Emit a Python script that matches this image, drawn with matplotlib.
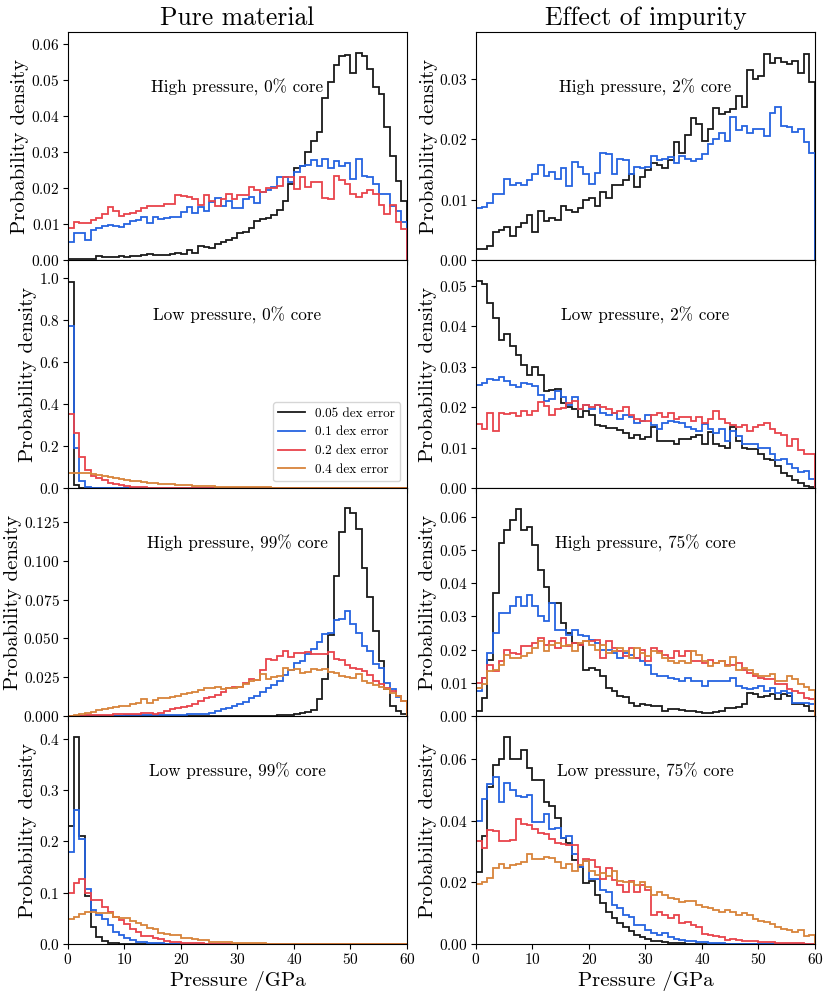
import numpy as np
import matplotlib
matplotlib.use("Agg")
import matplotlib.pyplot as plt

plt.rcParams['font.family'] = ['cmr10', 'DejaVu Serif']
plt.rcParams['mathtext.fontset'] = 'cm'
plt.rcParams['axes.formatter.use_mathtext'] = True

edges = np.arange(0, 61, 1)
labels = ['0.05 dex error', '0.1 dex error', '0.2 dex error', '0.4 dex error']
colors = ['#1a1a1a', '#2563e0', '#e8434b', '#d8843a']

# ---------- Pure material, high pressure, 0% core ----------
hp0_005 = [0.0002, 0.0003, 0.0003, 0.0002, 0.0004, 0.0011, 0.0009, 0.0007, 0.0009, 0.0012,
           0.0008, 0.0012, 0.0010, 0.0014, 0.0016, 0.0015, 0.0015, 0.0014, 0.0017, 0.0019,
           0.0016, 0.0027, 0.0020, 0.0040, 0.0036, 0.0032, 0.0045, 0.0050, 0.0055, 0.0062,
           0.0075, 0.0079, 0.0090, 0.0107, 0.0115, 0.0116, 0.0125, 0.0140, 0.0165, 0.0210,
           0.0255, 0.0260, 0.0300, 0.0330, 0.0355, 0.0450, 0.0495, 0.0540, 0.0565, 0.0570,
           0.0520, 0.0575, 0.0565, 0.0530, 0.0480, 0.0460, 0.0370, 0.0290, 0.0220, 0.0165]
hp0_01 = [0.0050, 0.0075, 0.0075, 0.0055, 0.0083, 0.0088, 0.0095, 0.0098, 0.0095, 0.0092,
          0.0100, 0.0108, 0.0112, 0.0118, 0.0102, 0.0118, 0.0115, 0.0117, 0.0118, 0.0120,
          0.0133, 0.0148, 0.0130, 0.0148, 0.0135, 0.0160, 0.0172, 0.0150, 0.0165, 0.0145,
          0.0144, 0.0170, 0.0176, 0.0158, 0.0190, 0.0195, 0.0204, 0.0230, 0.0230, 0.0216,
          0.0245, 0.0260, 0.0265, 0.0277, 0.0260, 0.0280, 0.0255, 0.0276, 0.0260, 0.0270,
          0.0226, 0.0280, 0.0232, 0.0230, 0.0210, 0.0184, 0.0183, 0.0151, 0.0137, 0.0105]
hp0_02 = [0.0089, 0.0105, 0.0104, 0.0102, 0.0112, 0.0117, 0.0127, 0.0146, 0.0135, 0.0123,
          0.0127, 0.0130, 0.0135, 0.0144, 0.0149, 0.0151, 0.0151, 0.0156, 0.0155, 0.0180,
          0.0178, 0.0176, 0.0170, 0.0153, 0.0180, 0.0165, 0.0149, 0.0170, 0.0183, 0.0170,
          0.0180, 0.0180, 0.0204, 0.0195, 0.0188, 0.0200, 0.0200, 0.0205, 0.0230, 0.0230,
          0.0198, 0.0230, 0.0203, 0.0217, 0.0217, 0.0172, 0.0170, 0.0234, 0.0222, 0.0211,
          0.0182, 0.0176, 0.0186, 0.0193, 0.0184, 0.0154, 0.0127, 0.0154, 0.0105, 0.0086]

# ---------- Impurity, high pressure, 2% core ----------
hp2_005 = [0.0018, 0.0019, 0.0024, 0.0047, 0.0050, 0.0055, 0.0040, 0.0055, 0.0062, 0.0075,
           0.0047, 0.0082, 0.0064, 0.0070, 0.0066, 0.0090, 0.0083, 0.0080, 0.0086, 0.0100,
           0.0102, 0.0090, 0.0113, 0.0102, 0.0125, 0.0125, 0.0132, 0.0142, 0.0121, 0.0137,
           0.0150, 0.0160, 0.0158, 0.0152, 0.0165, 0.0195, 0.0178, 0.0208, 0.0235, 0.0225,
           0.0197, 0.0218, 0.0252, 0.0242, 0.0245, 0.0250, 0.0272, 0.0254, 0.0315, 0.0300,
           0.0305, 0.0342, 0.0327, 0.0335, 0.0328, 0.0325, 0.0330, 0.0310, 0.0342, 0.0295]
hp2_01 = [0.0087, 0.0088, 0.0095, 0.0110, 0.0110, 0.0134, 0.0125, 0.0127, 0.0124, 0.0133,
          0.0143, 0.0157, 0.0140, 0.0146, 0.0135, 0.0152, 0.0122, 0.0162, 0.0154, 0.0143,
          0.0126, 0.0145, 0.0178, 0.0175, 0.0142, 0.0168, 0.0165, 0.0142, 0.0154, 0.0153,
          0.0155, 0.0173, 0.0165, 0.0168, 0.0170, 0.0160, 0.0173, 0.0167, 0.0164, 0.0168,
          0.0175, 0.0193, 0.0200, 0.0210, 0.0198, 0.0237, 0.0215, 0.0222, 0.0210, 0.0218,
          0.0218, 0.0205, 0.0243, 0.0253, 0.0222, 0.0220, 0.0213, 0.0218, 0.0195, 0.0178]

# ---------- Pure material, low pressure, 0% core ----------
lp0_005 = [0.98, 0.015, 0.002, 0.0005, 0.0002, 0.0001, 0.0, 0.0, 0.0, 0.0,
           0.0, 0.0, 0.0, 0.0, 0.0, 0.0, 0.0, 0.0, 0.0, 0.0,
           0.0, 0.0, 0.0, 0.0, 0.0, 0.0, 0.0, 0.0, 0.0, 0.0,
           0.0, 0.0, 0.0, 0.0, 0.0, 0.0, 0.0, 0.0, 0.0, 0.0,
           0.0, 0.0, 0.0, 0.0, 0.0, 0.0, 0.0, 0.0, 0.0, 0.0,
           0.0, 0.0, 0.0, 0.0, 0.0, 0.0, 0.0, 0.0, 0.0, 0.0]
lp0_01 = [0.77, 0.19, 0.032, 0.004, 0.0015, 0.0010, 0.0007, 0.0005, 0.0003, 0.0002,
          0.0001, 0.0001, 0.0, 0.0, 0.0, 0.0, 0.0, 0.0, 0.0, 0.0,
          0.0, 0.0, 0.0, 0.0, 0.0, 0.0, 0.0, 0.0, 0.0, 0.0,
          0.0, 0.0, 0.0, 0.0, 0.0, 0.0, 0.0, 0.0, 0.0, 0.0,
          0.0, 0.0, 0.0, 0.0, 0.0, 0.0, 0.0, 0.0, 0.0, 0.0,
          0.0, 0.0, 0.0, 0.0, 0.0, 0.0, 0.0, 0.0, 0.0, 0.0]
lp0_02 = [0.35, 0.26, 0.145, 0.084, 0.058, 0.047, 0.036, 0.024, 0.017, 0.012,
          0.009, 0.006, 0.004, 0.003, 0.002, 0.0015, 0.0010, 0.0008, 0.0006, 0.0004,
          0.0003, 0.0002, 0.0002, 0.0001, 0.0001, 0.0, 0.0, 0.0, 0.0, 0.0,
          0.0, 0.0, 0.0, 0.0, 0.0, 0.0, 0.0, 0.0, 0.0, 0.0,
          0.0, 0.0, 0.0, 0.0, 0.0, 0.0, 0.0, 0.0, 0.0, 0.0,
          0.0, 0.0, 0.0, 0.0, 0.0, 0.0, 0.0, 0.0, 0.0, 0.0]
lp0_04 = [0.070, 0.072, 0.073, 0.070, 0.065, 0.060, 0.055, 0.050, 0.046, 0.042,
          0.038, 0.034, 0.031, 0.028, 0.025, 0.023, 0.021, 0.019, 0.017, 0.015,
          0.013, 0.012, 0.011, 0.010, 0.009, 0.008, 0.007, 0.006, 0.0055, 0.0050,
          0.0045, 0.0040, 0.0035, 0.0030, 0.0027, 0.0024, 0.0021, 0.0018, 0.0015, 0.0013,
          0.0011, 0.0010, 0.0009, 0.0008, 0.0007, 0.0006, 0.0005, 0.0004, 0.0004, 0.0003,
          0.0003, 0.0002, 0.0002, 0.0002, 0.0001, 0.0001, 0.0001, 0.0001, 0.0001, 0.0001]

# ---------- Impurity, low pressure, 2% core ----------
lp2_005 = [0.0512, 0.0505, 0.0458, 0.0420, 0.0365, 0.0380, 0.0350, 0.0330, 0.0305, 0.0280,
           0.0300, 0.0280, 0.0240, 0.0242, 0.0246, 0.0210, 0.0200, 0.0195, 0.0175, 0.0190,
           0.0180, 0.0155, 0.0153, 0.0148, 0.0149, 0.0143, 0.0135, 0.0123, 0.0130, 0.0122,
           0.0127, 0.0150, 0.0117, 0.0117, 0.0115, 0.0110, 0.0120, 0.0120, 0.0125, 0.0130,
           0.0110, 0.0138, 0.0108, 0.0105, 0.0100, 0.0150, 0.0115, 0.0100, 0.0097, 0.0096,
           0.0085, 0.0072, 0.0068, 0.0055, 0.0038, 0.0030, 0.0020, 0.0012, 0.0006, 0.0003]
lp2_01 = [0.0255, 0.0260, 0.0270, 0.0268, 0.0275, 0.0265, 0.0255, 0.0250, 0.0260, 0.0256,
          0.0253, 0.0230, 0.0215, 0.0220, 0.0240, 0.0225, 0.0205, 0.0225, 0.0195, 0.0205,
          0.0195, 0.0205, 0.0185, 0.0180, 0.0185, 0.0170, 0.0180, 0.0175, 0.0160, 0.0165,
          0.0180, 0.0155, 0.0145, 0.0160, 0.0165, 0.0162, 0.0160, 0.0150, 0.0145, 0.0140,
          0.0158, 0.0145, 0.0135, 0.0145, 0.0115, 0.0140, 0.0128, 0.0110, 0.0110, 0.0110,
          0.0100, 0.0100, 0.0085, 0.0068, 0.0072, 0.0060, 0.0050, 0.0040, 0.0042, 0.0022]
lp2_02 = [0.0158, 0.0145, 0.0185, 0.0140, 0.0185, 0.0182, 0.0186, 0.0178, 0.0190, 0.0180,
          0.0190, 0.0212, 0.0202, 0.0180, 0.0195, 0.0198, 0.0210, 0.0215, 0.0195, 0.0205,
          0.0200, 0.0205, 0.0200, 0.0195, 0.0185, 0.0190, 0.0200, 0.0180, 0.0170, 0.0165,
          0.0165, 0.0180, 0.0185, 0.0175, 0.0185, 0.0170, 0.0175, 0.0175, 0.0165, 0.0175,
          0.0160, 0.0170, 0.0190, 0.0170, 0.0160, 0.0155, 0.0150, 0.0155, 0.0140, 0.0150,
          0.0155, 0.0160, 0.0145, 0.0135, 0.0130, 0.0105, 0.0120, 0.0095, 0.0085, 0.0085]

# ---------- Pure material, high pressure, 99% core ----------
hp99_005 = [0.0, 0.0, 0.0, 0.0, 0.0, 0.0, 0.0, 0.0, 0.0, 0.0,
            0.0, 0.0, 0.0, 0.0, 0.0, 0.0, 0.0, 0.0, 0.0, 0.0,
            0.0, 0.0, 0.0, 0.0, 0.0, 0.0, 0.0, 0.0, 0.0, 0.0001,
            0.0001, 0.0001, 0.0001, 0.0002, 0.0002, 0.0002, 0.0003, 0.0004, 0.0006, 0.0008,
            0.0012, 0.0017, 0.0025, 0.0040, 0.0108, 0.0237, 0.0520, 0.0900, 0.1188, 0.1338,
            0.1310, 0.1205, 0.0957, 0.0770, 0.0549, 0.0355, 0.0172, 0.0065, 0.0030, 0.0010]
hp99_01 = [0.0, 0.0001, 0.0001, 0.0001, 0.0002, 0.0002, 0.0002, 0.0003, 0.0003, 0.0003,
           0.0004, 0.0004, 0.0005, 0.0005, 0.0006, 0.0006, 0.0007, 0.0008, 0.0008, 0.0009,
           0.0009, 0.0010, 0.0010, 0.0012, 0.0015, 0.0022, 0.0032, 0.0043, 0.0050, 0.0065,
           0.0075, 0.0093, 0.0114, 0.0129, 0.0157, 0.0183, 0.0200, 0.0226, 0.0265, 0.0295,
           0.0344, 0.0355, 0.0400, 0.0430, 0.0478, 0.0527, 0.0534, 0.0620, 0.0628, 0.0678,
           0.0596, 0.0534, 0.0450, 0.0420, 0.0333, 0.0310, 0.0215, 0.0172, 0.0123, 0.0097]
hp99_02 = [0.0002, 0.0003, 0.0003, 0.0004, 0.0005, 0.0006, 0.0007, 0.0008, 0.0010, 0.0011,
           0.0013, 0.0012, 0.0015, 0.0017, 0.0016, 0.0015, 0.0022, 0.0032, 0.0042, 0.0054,
           0.0058, 0.0065, 0.0080, 0.0097, 0.0114, 0.0123, 0.0135, 0.0157, 0.0180, 0.0190,
           0.0190, 0.0215, 0.0240, 0.0235, 0.0297, 0.0366, 0.0360, 0.0387, 0.0420, 0.0383,
           0.0404, 0.0405, 0.0415, 0.0400, 0.0400, 0.0400, 0.0410, 0.0366, 0.0359, 0.0330,
           0.0310, 0.0300, 0.0290, 0.0262, 0.0226, 0.0204, 0.0180, 0.0160, 0.0129, 0.0097]
hp99_04 = [0.0001, 0.0004, 0.0010, 0.0019, 0.0025, 0.0036, 0.0047, 0.0054, 0.0060, 0.0065,
           0.0066, 0.0075, 0.0086, 0.0107, 0.0086, 0.0101, 0.0113, 0.0113, 0.0122, 0.0129,
           0.0140, 0.0150, 0.0157, 0.0168, 0.0180, 0.0183, 0.0190, 0.0172, 0.0178, 0.0183,
           0.0190, 0.0204, 0.0226, 0.0230, 0.0268, 0.0236, 0.0250, 0.0260, 0.0308, 0.0295,
           0.0300, 0.0280, 0.0283, 0.0300, 0.0294, 0.0300, 0.0285, 0.0280, 0.0258, 0.0250,
           0.0245, 0.0270, 0.0226, 0.0215, 0.0200, 0.0185, 0.0172, 0.0150, 0.0129, 0.0097]

# ---------- Impurity, high pressure, 75% core ----------
hp75_005 = [0.0015, 0.0053, 0.0170, 0.0370, 0.0520, 0.0560, 0.0590, 0.0625, 0.0560, 0.0570,
            0.0515, 0.0440, 0.0390, 0.0340, 0.0340, 0.0280, 0.0250, 0.0220, 0.0215, 0.0140,
            0.0145, 0.0138, 0.0120, 0.0085, 0.0075, 0.0060, 0.0058, 0.0040, 0.0030, 0.0035,
            0.0033, 0.0030, 0.0030, 0.0015, 0.0020, 0.0020, 0.0018, 0.0015, 0.0015, 0.0013,
            0.0010, 0.0010, 0.0012, 0.0015, 0.0025, 0.0023, 0.0028, 0.0035, 0.0070, 0.0065,
            0.0058, 0.0060, 0.0065, 0.0050, 0.0065, 0.0060, 0.0035, 0.0035, 0.0030, 0.0015]
hp75_01 = [0.0075, 0.0115, 0.0190, 0.0250, 0.0310, 0.0310, 0.0330, 0.0360, 0.0330, 0.0365,
           0.0330, 0.0300, 0.0285, 0.0340, 0.0260, 0.0260, 0.0245, 0.0260, 0.0245, 0.0240,
           0.0230, 0.0220, 0.0200, 0.0200, 0.0190, 0.0175, 0.0190, 0.0185, 0.0175, 0.0165,
           0.0155, 0.0125, 0.0120, 0.0120, 0.0115, 0.0110, 0.0105, 0.0115, 0.0105, 0.0105,
           0.0090, 0.0105, 0.0105, 0.0105, 0.0105, 0.0115, 0.0090, 0.0085, 0.0080, 0.0085,
           0.0090, 0.0075, 0.0085, 0.0070, 0.0075, 0.0070, 0.0040, 0.0040, 0.0040, 0.0035]
hp75_02 = [0.0098, 0.0115, 0.0155, 0.0135, 0.0165, 0.0200, 0.0190, 0.0188, 0.0210, 0.0210,
           0.0220, 0.0235, 0.0215, 0.0225, 0.0205, 0.0235, 0.0210, 0.0220, 0.0215, 0.0225,
           0.0225, 0.0230, 0.0175, 0.0225, 0.0205, 0.0195, 0.0180, 0.0205, 0.0175, 0.0200,
           0.0165, 0.0205, 0.0195, 0.0185, 0.0175, 0.0195, 0.0180, 0.0195, 0.0165, 0.0165,
           0.0160, 0.0170, 0.0160, 0.0165, 0.0155, 0.0155, 0.0160, 0.0140, 0.0130, 0.0120,
           0.0115, 0.0110, 0.0110, 0.0095, 0.0095, 0.0080, 0.0075, 0.0070, 0.0055, 0.0050]
hp75_04 = [0.0085, 0.0095, 0.0135, 0.0140, 0.0155, 0.0185, 0.0175, 0.0175, 0.0180, 0.0190,
           0.0205, 0.0225, 0.0195, 0.0215, 0.0220, 0.0210, 0.0215, 0.0195, 0.0220, 0.0225,
           0.0215, 0.0200, 0.0215, 0.0190, 0.0195, 0.0205, 0.0195, 0.0175, 0.0205, 0.0190,
           0.0180, 0.0195, 0.0190, 0.0175, 0.0165, 0.0160, 0.0165, 0.0160, 0.0195, 0.0185,
           0.0165, 0.0150, 0.0160, 0.0165, 0.0150, 0.0178, 0.0140, 0.0145, 0.0140, 0.0125,
           0.0120, 0.0120, 0.0125, 0.0105, 0.0105, 0.0120, 0.0110, 0.0095, 0.0088, 0.0078]

# ---------- Pure material, low pressure, 99% core ----------
lp99_005 = [0.230, 0.404, 0.210, 0.0925, 0.0326, 0.0143, 0.0065, 0.0026, 0.0012, 0.0006,
            0.0003, 0.0002, 0.0001, 0.0001, 0.0, 0.0, 0.0, 0.0, 0.0, 0.0,
            0.0, 0.0, 0.0, 0.0, 0.0, 0.0, 0.0, 0.0, 0.0, 0.0,
            0.0, 0.0, 0.0, 0.0, 0.0, 0.0, 0.0, 0.0, 0.0, 0.0,
            0.0, 0.0, 0.0, 0.0, 0.0, 0.0, 0.0, 0.0, 0.0, 0.0,
            0.0, 0.0, 0.0, 0.0, 0.0, 0.0, 0.0, 0.0, 0.0, 0.0]
lp99_01 = [0.180, 0.2606, 0.205, 0.107, 0.0664, 0.057, 0.049, 0.037, 0.024, 0.0176,
           0.0124, 0.0078, 0.0046, 0.0030, 0.0020, 0.0015, 0.0010, 0.0008, 0.0005, 0.0004,
           0.0003, 0.0002, 0.0001, 0.0001, 0.0, 0.0, 0.0, 0.0, 0.0, 0.0,
           0.0, 0.0, 0.0, 0.0, 0.0, 0.0, 0.0, 0.0, 0.0, 0.0,
           0.0, 0.0, 0.0, 0.0, 0.0, 0.0, 0.0, 0.0, 0.0, 0.0,
           0.0, 0.0, 0.0, 0.0, 0.0, 0.0, 0.0, 0.0, 0.0, 0.0]
lp99_02 = [0.099, 0.1186, 0.126, 0.100, 0.086, 0.086, 0.0717, 0.063, 0.052, 0.047,
           0.038, 0.030, 0.024, 0.0156, 0.0156, 0.0124, 0.0098, 0.0065, 0.0046, 0.0035,
           0.0025, 0.0018, 0.0013, 0.0010, 0.0007, 0.0005, 0.0003, 0.0002, 0.0001, 0.0001,
           0.0, 0.0, 0.0, 0.0, 0.0, 0.0, 0.0, 0.0, 0.0, 0.0,
           0.0, 0.0, 0.0, 0.0, 0.0, 0.0, 0.0, 0.0, 0.0, 0.0,
           0.0, 0.0, 0.0, 0.0, 0.0, 0.0, 0.0, 0.0, 0.0, 0.0]
lp99_04 = [0.049, 0.052, 0.058, 0.063, 0.062, 0.061, 0.060, 0.060, 0.052, 0.051,
           0.050, 0.0456, 0.041, 0.037, 0.0306, 0.029, 0.0208, 0.0200, 0.0176, 0.0176,
           0.0124, 0.0124, 0.0098, 0.0078, 0.0078, 0.0046, 0.0046, 0.0040, 0.0033, 0.0025,
           0.0020, 0.0016, 0.0014, 0.0012, 0.0010, 0.0008, 0.0007, 0.0006, 0.0005, 0.0004,
           0.0003, 0.0002, 0.0002, 0.0001, 0.0001, 0.0, 0.0, 0.0, 0.0, 0.0,
           0.0, 0.0, 0.0, 0.0, 0.0, 0.0, 0.0, 0.0, 0.0, 0.0]

# ---------- Impurity, low pressure, 75% core ----------
lp75_005 = [0.0232, 0.0350, 0.0510, 0.0580, 0.0600, 0.0670, 0.0600, 0.0600, 0.0630, 0.0570,
            0.0533, 0.0533, 0.0460, 0.0446, 0.0408, 0.0343, 0.0327, 0.0273, 0.0250, 0.0197,
            0.0203, 0.0159, 0.0132, 0.0105, 0.0083, 0.0067, 0.0056, 0.0042, 0.0029, 0.0021,
            0.0015, 0.0011, 0.0008, 0.0006, 0.0004, 0.0003, 0.0002, 0.0001, 0.0, 0.0,
            0.0, 0.0, 0.0, 0.0, 0.0, 0.0, 0.0, 0.0, 0.0, 0.0,
            0.0, 0.0, 0.0, 0.0, 0.0, 0.0, 0.0, 0.0, 0.0, 0.0]
lp75_01 = [0.0400, 0.0470, 0.0520, 0.0540, 0.0460, 0.0522, 0.0500, 0.0480, 0.0475, 0.0484,
           0.0395, 0.0395, 0.0420, 0.0373, 0.0375, 0.0343, 0.0350, 0.0290, 0.0250, 0.0268,
           0.0210, 0.0210, 0.0175, 0.0170, 0.0127, 0.0116, 0.0094, 0.0089, 0.0060, 0.0062,
           0.0046, 0.0035, 0.0029, 0.0035, 0.0022, 0.0016, 0.0013, 0.0011, 0.0008, 0.0006,
           0.0005, 0.0004, 0.0003, 0.0002, 0.0001, 0.0001, 0.0001, 0.0, 0.0, 0.0,
           0.0, 0.0, 0.0, 0.0, 0.0, 0.0, 0.0, 0.0, 0.0, 0.0]
lp75_02 = [0.0335, 0.0310, 0.0368, 0.0365, 0.0335, 0.0335, 0.0338, 0.0405, 0.0390, 0.0387,
           0.0374, 0.0360, 0.0357, 0.0339, 0.0327, 0.0324, 0.0320, 0.0320, 0.0257, 0.0276,
           0.0273, 0.0249, 0.0211, 0.0246, 0.0208, 0.0192, 0.0170, 0.0205, 0.0170, 0.0190,
           0.0176, 0.0094, 0.0103, 0.0094, 0.0083, 0.0094, 0.0067, 0.0070, 0.0062, 0.0054,
           0.0031, 0.0029, 0.0027, 0.0024, 0.0013, 0.0015, 0.0012, 0.0011, 0.0010, 0.0008,
           0.0007, 0.0006, 0.0005, 0.0004, 0.0004, 0.0003, 0.0002, 0.0002, 0.0001, 0.0001]
lp75_04 = [0.0195, 0.0200, 0.0215, 0.0245, 0.0260, 0.0245, 0.0255, 0.0260, 0.0265, 0.0290,
           0.0275, 0.0275, 0.0283, 0.0280, 0.0265, 0.0245, 0.0260, 0.0235, 0.0255, 0.0270,
           0.0235, 0.0225, 0.0230, 0.0220, 0.0235, 0.0205, 0.0200, 0.0200, 0.0190, 0.0200,
           0.0185, 0.0160, 0.0170, 0.0160, 0.0150, 0.0145, 0.0135, 0.0140, 0.0140, 0.0125,
           0.0120, 0.0115, 0.0110, 0.0105, 0.0110, 0.0105, 0.0095, 0.0100, 0.0095, 0.0080,
           0.0075, 0.0070, 0.0065, 0.0055, 0.0050, 0.0045, 0.0040, 0.0045, 0.0025, 0.0030]

panels = [
    # (row, col, label, series list, ymax)
    (0, 0, 'High pressure, 0% core', [hp0_005, hp0_01, hp0_02, None], 0.0633),
    (0, 1, 'High pressure, 2% core', [hp2_005, hp2_01, None, None], 0.0378),
    (1, 0, 'Low pressure, 0% core', [lp0_005, lp0_01, lp0_02, lp0_04], 1.084),
    (1, 1, 'Low pressure, 2% core', [lp2_005, lp2_01, lp2_02, None], 0.0564),
    (2, 0, 'High pressure, 99% core', [hp99_005, hp99_01, hp99_02, hp99_04], 0.147),
    (2, 1, 'High pressure, 75% core', [hp75_005, hp75_01, hp75_02, hp75_04], 0.0687),
    (3, 0, 'Low pressure, 99% core', [lp99_005, lp99_01, lp99_02, lp99_04], 0.444),
    (3, 1, 'Low pressure, 75% core', [lp75_005, lp75_01, lp75_02, lp75_04], 0.0739),
]

fig, axes = plt.subplots(4, 2, figsize=(8.3, 9.97), dpi=100, sharex='col')
fig.subplots_adjust(left=0.0819, right=0.9819, top=0.9679, bottom=0.0532,
                    hspace=0.0, wspace=0.2035)

for row, col, text, series, ymax in panels:
    ax = axes[row, col]
    for vals, c, lab in zip(series, colors, labels):
        if vals is None:
            continue
        ax.stairs(vals, edges, color=c, lw=1.3, label=lab)
    ax.set_xlim(0, 60)
    ax.set_ylim(0, ymax)
    ax.set_ylabel('Probability density', fontsize=15, labelpad=1)
    ax.text(0.5, 0.755, text, transform=ax.transAxes, ha='center', va='center',
            fontsize=12.3)
    ax.tick_params(labelsize=11, pad=2.5)
    if row == 3:
        ax.set_xlabel('Pressure /GPa', fontsize=15, labelpad=3)
        ax.set_xticks([0, 10, 20, 30, 40, 50, 60])

axes[0, 0].set_title('Pure material', fontsize=18.5, pad=5)
axes[0, 1].set_title('Effect of impurity', fontsize=18.5, pad=5)
axes[1, 0].legend(loc='lower right', fontsize=9.5)

fig.savefig('out.png', dpi=100)
